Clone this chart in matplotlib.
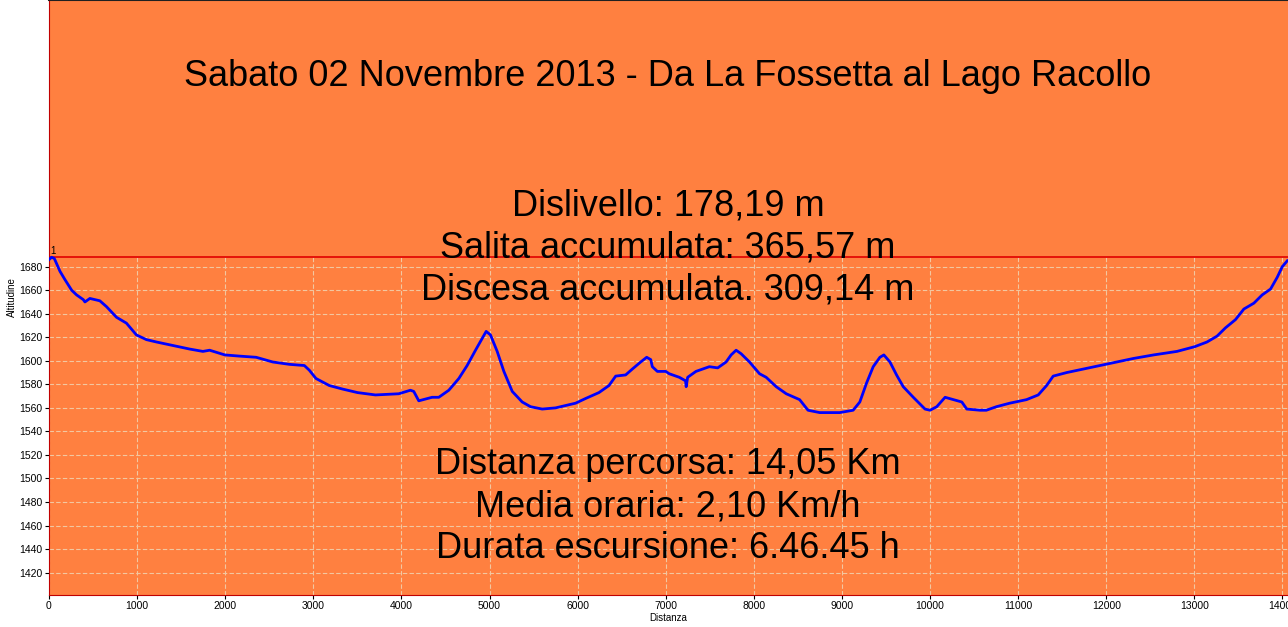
import matplotlib
matplotlib.use("Agg")
import matplotlib.pyplot as plt

plt.rcParams['font.family'] = ['Liberation Sans', 'DejaVu Sans']

# Profile (distance in m, altitude in m)
distanza = [0, 30, 60, 125, 181, 257, 313, 389, 408, 464, 577, 653, 766, 879, 992,
            1106, 1219, 1408, 1596, 1747, 1823, 1996, 2162, 2351, 2540, 2728, 2898,
            2955, 3030, 3181, 3332, 3502, 3705, 3970, 4102, 4140, 4197, 4348, 4424,
            4538, 4652, 4746, 4841, 4917, 4962, 5011, 5087, 5163, 5258, 5371, 5466,
            5598, 5750, 5977, 6091, 6242, 6356, 6432, 6545, 6621, 6716, 6784, 6830,
            6848, 6905, 7000, 7040, 7154, 7225, 7232, 7249, 7343, 7495, 7590, 7685,
            7742, 7799, 7856, 7951, 8065, 8140, 8254, 8368, 8520, 8615, 8748, 8975,
            9127, 9203, 9279, 9355, 9431, 9476, 9545, 9620, 9696, 9810, 9943, 10000,
            10076, 10171, 10266, 10361, 10417, 10569, 10639, 10753, 10905, 11095,
            11228, 11323, 11398, 11550, 11740, 11930, 12120, 12309, 12537, 12803,
            13004, 13144, 13258, 13353, 13467, 13562, 13676, 13770, 13865, 13941,
            13998, 14055]
altitudine = [1686, 1688, 1687, 1676, 1669, 1660, 1656, 1652, 1650, 1653, 1651, 1646,
              1637, 1632, 1622, 1618, 1616, 1613, 1610, 1608, 1609, 1605, 1604, 1603,
              1599, 1597, 1596, 1592, 1585, 1579, 1576, 1573, 1571, 1572, 1575, 1574,
              1566, 1569, 1569, 1575, 1585, 1596, 1609, 1619, 1625, 1622, 1608, 1591,
              1574, 1565, 1561, 1559, 1560, 1564, 1568, 1573, 1579, 1587, 1588, 1593,
              1599, 1603, 1601, 1595, 1591, 1591, 1589, 1586, 1583, 1578, 1586, 1591,
              1595, 1594, 1599, 1605, 1609, 1606, 1599, 1589, 1586, 1578, 1572, 1567,
              1558, 1556, 1556, 1558, 1565, 1581, 1595, 1603, 1605, 1599, 1588, 1578,
              1569, 1559, 1558, 1561, 1569, 1567, 1565, 1559, 1558, 1558, 1561, 1564,
              1567, 1571, 1579, 1587, 1590, 1593, 1596, 1599, 1602, 1605, 1608, 1612,
              1616, 1621, 1628, 1635, 1644, 1649, 1656, 1661, 1671, 1680, 1685]

titolo = "Sabato 02 Novembre 2013 - Da La Fossetta al Lago Racollo"
righe_alto = ["Dislivello: 178,19 m", "Salita accumulata: 365,57 m",
              "Discesa accumulata. 309,14 m"]
righe_basso = ["Distanza percorsa: 14,05 Km", "Media oraria: 2,10 Km/h",
               "Durata escursione: 6.46.45 h"]
y_ticks = list(range(1420, 1681, 20))
x_ticks = list(range(0, 14001, 1000))

arancio = "#FF8040"
W, H = 1288, 627

fig = plt.figure(figsize=(W / 100, H / 100), dpi=100)
fig.patch.set_facecolor("white")
ax = fig.add_axes([49 / W, 32 / H, 1 - 49 / W, 1 - 32 / H])
ax.set_facecolor(arancio)

ax.set_xlim(0, 14063)
ax.set_ylim(1401, 1906.6)
ax.set_xticks(x_ticks)
ax.set_yticks(y_ticks)
ax.tick_params(labelsize=7.5, length=3, width=0.8, pad=1.5, colors="black")
ax.set_axisbelow(True)
ax.grid(True, color="#F2C7A0", linestyle=(0, (4, 2)), linewidth=0.8)

quota_max = max(altitudine)
# area above the max line has no grid
ax.axhspan(quota_max, 1906.6, color=arancio, zorder=1, lw=0)
ax.axhline(quota_max, color="#E00000", lw=1.2, zorder=2)
ax.plot(distanza, altitudine, color="#0000FF", lw=2.0, zorder=3)
ax.text(20, quota_max + 1, "1", fontsize=7, va="bottom", ha="left", zorder=4)

for lato in ["left", "bottom"]:
    ax.spines[lato].set_color("#C00000")
ax.spines["top"].set_color("#202020")
ax.spines["top"].set_linewidth(1.5)
ax.spines["right"].set_visible(False)

ax.set_ylabel("Altitudine", fontsize=7, labelpad=2)
ax.set_xlabel("Distanza", fontsize=7, labelpad=1)

cx = 668 / W
fig.text(cx, 1 - 76 / H, titolo, fontsize=26, ha="center", va="center")
for i, r in enumerate(righe_alto):
    fig.text(cx, 1 - (206 + 42 * i) / H, r, fontsize=26, ha="center", va="center")
for i, r in enumerate(righe_basso):
    fig.text(cx, 1 - (465 + 42 * i) / H, r, fontsize=26, ha="center", va="center")

fig.savefig("out.png", dpi=100, facecolor=fig.get_facecolor())
